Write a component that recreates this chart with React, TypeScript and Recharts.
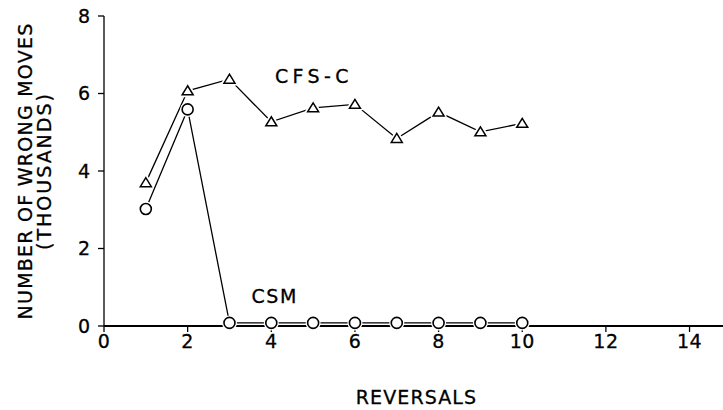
import { LineChart, Line, XAxis, YAxis, ReferenceDot } from 'recharts';

const reversals = [1, 2, 3, 4, 5, 6, 7, 8, 9, 10];
const cfsC = [3.7, 6.07, 6.37, 5.27, 5.63, 5.72, 4.84, 5.52, 5.01, 5.23];
const csm = [3.02, 5.59, 0.08, 0.08, 0.08, 0.08, 0.08, 0.08, 0.08, 0.08];
const xTicks = [0, 2, 4, 6, 8, 10, 12, 14];
const yTicks = [0, 2, 4, 6, 8];

const data = reversals.map((r, i) => ({ x: r, cfs: cfsC[i], csm: csm[i] }));

const FONT = 'DejaVu Sans';
const FS = 19;
const THICK = 0.3;

const TriangleDot = (props: any) => {
  const { cx, cy, index } = props;
  if (cx == null || cy == null) return null;
  const pts = `${cx},${cy - 5} ${cx - 5.5},${cy + 4} ${cx + 5.5},${cy + 4}`;
  return (
    <g key={`t${index}`}>
      <polygon points={pts} fill="#fff" stroke="#fff" strokeWidth={5} strokeLinejoin="round" />
      <polygon points={pts} fill="#fff" stroke="#000" strokeWidth={1.5} />
    </g>
  );
};

const CircleDot = (props: any) => {
  const { cx, cy, index } = props;
  if (cx == null || cy == null) return null;
  return (
    <g key={`c${index}`}>
      <circle cx={cx} cy={cy} r={5.5} fill="#fff" stroke="#fff" strokeWidth={4} />
      <circle cx={cx} cy={cy} r={5.5} fill="#fff" stroke="#000" strokeWidth={1.6} />
    </g>
  );
};

const YTitle = (props: any) => {
  const { viewBox } = props;
  const cy = viewBox.y + viewBox.height / 2;
  return (
    <g fontFamily={FONT} fontSize={FS} fill="#000" stroke="#000" strokeWidth={THICK}>
      <text x={25} y={cy} transform={`rotate(-90, 25, ${cy})`} textAnchor="middle" dominantBaseline="central" letterSpacing={1.25}>
        NUMBER OF WRONG MOVES
      </text>
      <text x={44} y={cy} transform={`rotate(-90, 44, ${cy})`} textAnchor="middle" dominantBaseline="central" letterSpacing={2}>
        (THOUSANDS)
      </text>
    </g>
  );
};

const XTitle = (props: any) => {
  const { viewBox } = props;
  const cx = viewBox.x + viewBox.width / 2 + 3;
  return (
    <text x={cx} y={397} fontFamily={FONT} fontSize={FS} fill="#000" stroke="#000" strokeWidth={THICK} textAnchor="middle" dominantBaseline="central" letterSpacing={1.1}>
      REVERSALS
    </text>
  );
};

export default function App() {
  return (
    <div style={{ position: 'absolute', left: 0, top: 0, background: '#fff' }}>
      <LineChart width={723} height={410} data={data} margin={{ top: 16, right: 0, bottom: 0, left: 0 }}>
        <XAxis
          type="number"
          dataKey="x"
          domain={[0, 14.8]}
          ticks={xTicks}
          allowDataOverflow
          height={84}
          tickSize={6}
          tickMargin={3}
          axisLine={{ stroke: '#000', strokeWidth: 2 }}
          tickLine={{ stroke: '#000', strokeWidth: 1.3 }}
          tick={{ fill: '#000', stroke: '#000', strokeWidth: THICK, fontSize: FS, fontFamily: FONT, letterSpacing: 0.5 }}
          label={<XTitle />}
        />
        <YAxis
          type="number"
          domain={[0, 8]}
          ticks={yTicks}
          width={104}
          tickSize={6}
          tickMargin={8}
          axisLine={{ stroke: '#000', strokeWidth: 1.3 }}
          tickLine={{ stroke: '#000', strokeWidth: 1.3 }}
          tick={{ fill: '#000', stroke: '#000', strokeWidth: THICK, fontSize: FS, fontFamily: FONT }}
          label={<YTitle />}
        />
        <Line
          dataKey="csm"
          stroke="#000"
          strokeWidth={1.3}
          dot={CircleDot}
          activeDot={false}
          isAnimationActive={false}
          type="linear"
        />
        <Line
          dataKey="cfs"
          stroke="#000"
          strokeWidth={1.3}
          dot={TriangleDot}
          activeDot={false}
          isAnimationActive={false}
          type="linear"
        />
        <ReferenceDot
          x={5.02}
          y={6.44}
          r={0}
          fill="none"
          stroke="none"
          ifOverflow="visible"
          label={{ value: 'CFS-C', position: 'center', fill: '#000', stroke: '#000', strokeWidth: THICK, fontSize: FS, fontFamily: FONT, letterSpacing: 4.4 }}
        />
        <ReferenceDot
          x={4.08}
          y={0.76}
          r={0}
          fill="none"
          stroke="none"
          ifOverflow="visible"
          label={{ value: 'CSM', position: 'center', fill: '#000', stroke: '#000', strokeWidth: THICK, fontSize: FS, fontFamily: FONT, letterSpacing: 1.6 }}
        />
      </LineChart>
    </div>
  );
}
